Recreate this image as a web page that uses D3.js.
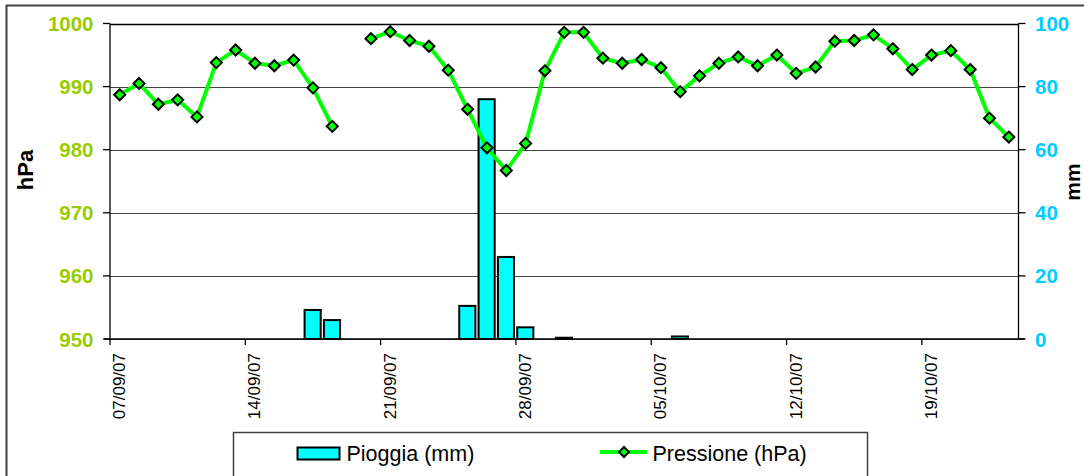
<!DOCTYPE html>
<html>
<head>
<meta charset="utf-8">
<script src="https://cdn.jsdelivr.net/npm/d3@7"></script>
<style>
  html, body { margin: 0; padding: 0; background: #fff; }
  svg { display: block; }
  text { font-family: "Liberation Sans", Arial, sans-serif; }
</style>
</head>
<body>
<svg id="chart" width="1084" height="476"></svg>
<script>
// Daily series, 07/09/2007 .. 23/10/2007
const startDay = "2007-09-07";
const endDay = "2007-10-24"; // exclusive
const pressure = [
  988.7, 990.5, 987.2, 987.9, 985.2, 993.8, 995.8, 993.7, 993.3, 994.2,
  989.8, 983.7, null, 997.6, 998.7, 997.3, 996.4, 992.6, 986.4, 980.3,
  976.7, 981.0, 992.5, 998.6, 998.6, 994.5, 993.7, 994.3, 993.0, 989.2,
  991.7, 993.7, 994.7, 993.3, 995.0, 992.1, 993.1, 997.2, 997.3, 998.2,
  996.0, 992.7, 995.0, 995.7, 992.7, 985.0, 982.0
];
const rain = [
  0, 0, 0, 0, 0, 0, 0, 0, 0, 0,
  9.2, 6.0, 0, 0, 0, 0, 0, 0, 10.5, 76,
  26, 3.7, 0, 0.4, 0, 0, 0, 0, 0, 0.8,
  0, 0, 0, 0, 0, 0, 0, 0, 0, 0,
  0, 0, 0, 0, 0, 0, 0
];
const pressureTicks = [950, 960, 970, 980, 990, 1000];
const rainTicks = [0, 20, 40, 60, 80, 100];
const dateTickStep = 7;
const seriesNames = ["Pioggia (mm)", "Pressione (hPa)"];
const axisTitles = ["hPa", "mm"];

const parse = d3.utcParse("%Y-%m-%d");
const fmt = d3.utcFormat("%d/%m/%y");
const days = d3.utcDay.range(parse(startDay), parse(endDay));

const svg = d3.select("#chart");
const plot = { left: 110, right: 1018.5, top: 23.5, bottom: 339 };

const x = d3.scaleBand().domain(d3.range(days.length)).range([plot.left, plot.right]).padding(0);
const yP = d3.scaleLinear().domain([950, 1000]).range([plot.bottom, plot.top]);
const yR = d3.scaleLinear().domain([0, 100]).range([plot.bottom, plot.top]);

const green = "#00ff00", cyan = "#00ffff";
const leftCol = "#99cc00", rightCol = "#00ccff";

// outer frame
svg.append("rect").attr("x", 6.5).attr("y", 5.5).attr("width", 1200).attr("height", 600)
  .attr("fill", "#fff").attr("stroke", "#404040").attr("stroke-width", 2);

// gridlines
svg.append("g").selectAll("line").data(pressureTicks).join("line")
  .attr("x1", plot.left).attr("x2", plot.right)
  .attr("y1", d => Math.round(yP(d)) + 0.5).attr("y2", d => Math.round(yP(d)) + 0.5)
  .attr("stroke", d => d === 1000 ? "#000" : "#444").attr("stroke-width", d => d === 1000 ? 1.5 : 1);

// rain bars
const bw = x.bandwidth();
svg.append("g").selectAll("rect").data(rain.map((v, i) => ({ v, i })).filter(d => d.v > 0)).join("rect")
  .attr("x", d => x(d.i) + 1.3)
  .attr("width", bw - 3.2)
  .attr("y", d => yR(d.v))
  .attr("height", d => yR(0) - yR(d.v))
  .attr("fill", cyan).attr("stroke", "#000").attr("stroke-width", 2);

// axes lines
const ax = svg.append("g").attr("stroke", "#000").attr("stroke-width", 1.3);
ax.append("line").attr("x1", plot.left).attr("x2", plot.left).attr("y1", plot.top).attr("y2", plot.bottom);
ax.append("line").attr("x1", plot.right).attr("x2", plot.right).attr("y1", plot.top).attr("y2", plot.bottom);
ax.append("line").attr("x1", plot.left - 6).attr("x2", plot.right + 6).attr("y1", plot.bottom).attr("y2", plot.bottom);

// left axis ticks & labels
pressureTicks.forEach(t => {
  ax.append("line").attr("x1", plot.left - 7).attr("x2", plot.left).attr("y1", yP(t)).attr("y2", yP(t));
  svg.append("text").attr("x", 93.5).attr("y", yP(t) + 7.5)
    .attr("text-anchor", "end").attr("font-size", 20.5).attr("font-weight", "bold")
    .attr("fill", leftCol).text(t);
});
// right axis ticks & labels
rainTicks.forEach(t => {
  ax.append("line").attr("x1", plot.right).attr("x2", plot.right + 7).attr("y1", yR(t)).attr("y2", yR(t));
  svg.append("text").attr("x", 1035).attr("y", yR(t) + 7.5)
    .attr("text-anchor", "start").attr("font-size", 20.5).attr("font-weight", "bold")
    .attr("fill", rightCol).text(t);
});

// date ticks & labels
d3.range(0, days.length, dateTickStep).forEach(i => {
  const tx = x(i);
  ax.append("line").attr("x1", tx).attr("x2", tx).attr("y1", plot.bottom).attr("y2", plot.bottom + 6);
  svg.append("text")
    .attr("transform", `translate(${tx + 15},353) rotate(-90)`)
    .attr("text-anchor", "end").attr("font-size", 17).attr("fill", "#000")
    .text(fmt(days[i]));
});

// axis titles
svg.append("text").attr("transform", "translate(33,170) rotate(-90)")
  .attr("text-anchor", "middle").attr("font-size", 22).attr("font-weight", "bold").text(axisTitles[0]);
svg.append("text").attr("transform", "translate(1080,182) rotate(-90)")
  .attr("text-anchor", "middle").attr("font-size", 21).attr("font-weight", "bold").text(axisTitles[1]);

// pressure line
const line = d3.line()
  .defined(d => d != null)
  .x((d, i) => x(i) + bw / 2)
  .y(d => yP(d));
svg.append("path").datum(pressure).attr("d", line)
  .attr("fill", "none").attr("stroke", green).attr("stroke-width", 4).attr("stroke-linejoin", "round");

const diamond = (cx, cy, r) => `M${cx},${cy - r}L${cx + r},${cy}L${cx},${cy + r}L${cx - r},${cy}Z`;
svg.append("g").selectAll("path").data(pressure.map((v, i) => ({ v, i })).filter(d => d.v != null)).join("path")
  .attr("d", d => diamond(x(d.i) + bw / 2, yP(d.v), 5.5))
  .attr("fill", green).attr("stroke", "#000").attr("stroke-width", 2);

// legend
const lg = svg.append("g");
lg.append("rect").attr("x", 233.5).attr("y", 432.5).attr("width", 634).attr("height", 60)
  .attr("fill", "#fff").attr("stroke", "#404040").attr("stroke-width", 1.5);
lg.append("rect").attr("x", 297.5).attr("y", 447.5).attr("width", 42).attr("height", 12)
  .attr("fill", cyan).attr("stroke", "#000").attr("stroke-width", 2);
lg.append("text").attr("x", 346.5).attr("y", 461).attr("font-size", 21.5).attr("fill", "#000").text(seriesNames[0]);
lg.append("line").attr("x1", 600).attr("x2", 647).attr("y1", 452).attr("y2", 452)
  .attr("stroke", green).attr("stroke-width", 4);
lg.append("path").attr("d", diamond(624, 452, 5)).attr("fill", green).attr("stroke", "#000").attr("stroke-width", 2);
lg.append("text").attr("x", 652.5).attr("y", 461).attr("font-size", 21.5).attr("fill", "#000").text(seriesNames[1]);
</script>
</body>
</html>
